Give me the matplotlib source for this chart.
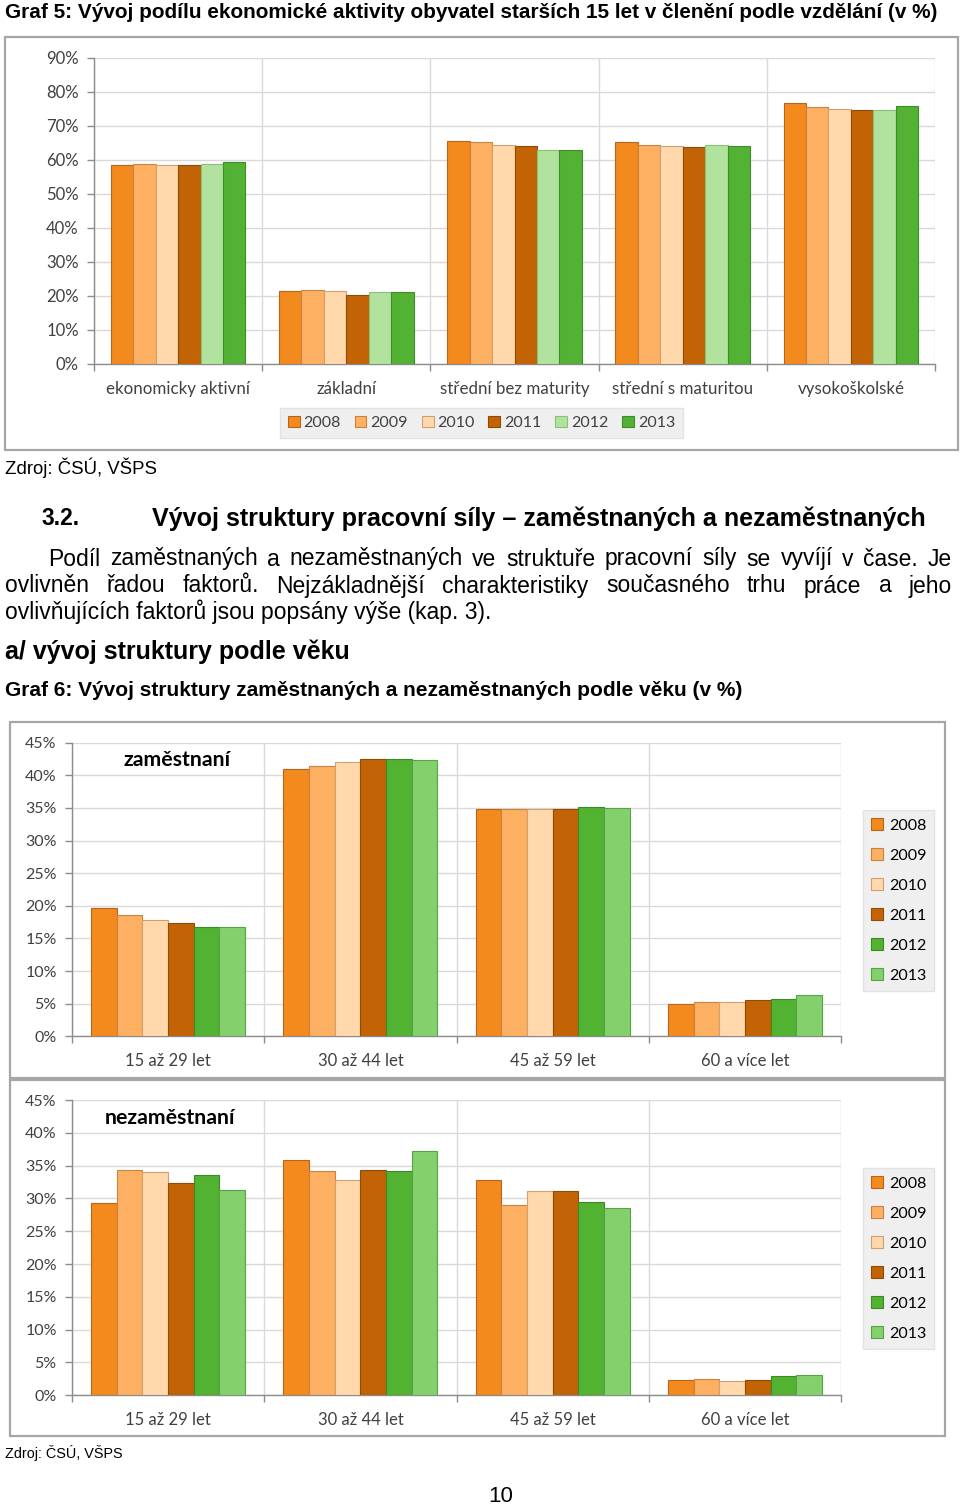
import matplotlib
matplotlib.use('Agg')
import matplotlib.pyplot as plt
from matplotlib.patches import Rectangle, Patch
import numpy as np

W, H = 960, 1510

years = ['2008', '2009', '2010', '2011', '2012', '2013']

# Graf 5 data
edu_cats = ['ekonomicky aktivní', 'základní', 'střední bez maturity',
            'střední s maturitou', 'vysokoškolské']
edu_2008 = [58.6, 21.6, 65.7, 65.2, 76.7]
edu_2009 = [58.8, 21.9, 65.2, 64.3, 75.5]
edu_2010 = [58.5, 21.4, 64.3, 64.0, 75.0]
edu_2011 = [58.5, 20.3, 64.0, 63.7, 74.7]
edu_2012 = [58.8, 21.1, 62.8, 64.3, 74.7]
edu_2013 = [59.3, 21.1, 63.0, 64.0, 75.8]

# Graf 6 data
age_cats = ['15 až 29 let', '30 až 44 let', '45 až 59 let', '60 a více let']
emp_2008 = [19.7, 40.9, 34.8, 5.0]
emp_2009 = [18.6, 41.5, 34.8, 5.2]
emp_2010 = [17.8, 42.1, 34.8, 5.2]
emp_2011 = [17.4, 42.5, 34.8, 5.5]
emp_2012 = [16.8, 42.5, 35.2, 5.7]
emp_2013 = [16.8, 42.3, 35.0, 6.3]
unemp_2008 = [29.3, 35.9, 32.8, 2.3]
unemp_2009 = [34.4, 34.2, 29.0, 2.5]
unemp_2010 = [34.0, 32.8, 31.1, 2.2]
unemp_2011 = [32.4, 34.4, 31.1, 2.3]
unemp_2012 = [33.6, 34.2, 29.5, 3.0]
unemp_2013 = [31.3, 37.2, 28.6, 3.1]

col1 = ['#F28A1E', '#FDB062', '#FFD8AC', '#C26406', '#B2E39E', '#53B234']
edge1 = ['#B8651A', '#C9823F', '#D0A070', '#8F4A05', '#8CBF78', '#3E8C27']
col2 = ['#F28A1E', '#FDB062', '#FFD8AC', '#C26406', '#52B232', '#84D06C']
edge2 = ['#B8651A', '#C9823F', '#D0A070', '#8F4A05', '#3A8A25', '#58A345']

CH_FONT = 'Lato'
PG_FONT = 'Liberation Sans'
GRID = '#D9D9D9'
AXC = '#8C8C8C'
TXT = '#404040'

fig = plt.figure(figsize=(W / 100, H / 100), dpi=100)
fig.patch.set_facecolor('white')
renderer = fig.canvas.get_renderer()


def fy(y):
    return 1 - y / H


def frame(x0, y0, x1, y1):
    fig.patches.append(Rectangle((x0 / W, fy(y1)), (x1 - x0) / W, (y1 - y0) / H,
                                 transform=fig.transFigure, fill=False,
                                 edgecolor='#A6A6A6', linewidth=1.6, zorder=0))


def fit_text(x0, x1, yc, s, weight='normal', size=12, family=PG_FONT):
    t = fig.text(x0 / W, fy(yc), s, ha='left', va='center', fontsize=size,
                 fontweight=weight, family=family, color='black')
    for _ in range(2):
        bb = t.get_window_extent(renderer)
        t.set_fontsize(t.get_fontsize() * (x1 - x0) / bb.width)
    return t


def justify(x0, x1, yc, s, size, weight='normal', family=PG_FONT):
    words = s.split(' ')
    ts = []
    widths = []
    for w in words:
        t = fig.text(0, fy(yc), w, ha='left', va='center', fontsize=size,
                     fontweight=weight, family=family, color='black')
        ts.append(t)
        widths.append(t.get_window_extent(renderer).width)
    gap = (x1 - x0 - sum(widths)) / (len(words) - 1)
    x = x0
    for t, w in zip(ts, widths):
        t.set_x(x / W)
        x += w + gap


def bar_axes(l, t, r, b, cats, series, colors, edges, ymax, ystep, fs, xfs, xpad):
    ax = fig.add_axes([l / W, fy(b), (r - l) / W, (b - t) / H])
    n = len(series)
    bw = 0.8 / n
    xc = np.arange(len(cats)) + 0.5
    for i, (vals, c, e) in enumerate(zip(series, colors, edges)):
        ax.bar(xc - 0.4 + bw * (i + 0.5), vals, width=bw, color=c,
               edgecolor=e, linewidth=0.8, zorder=3)
    ax.set_xlim(0, len(cats))
    ax.set_ylim(0, ymax)
    ax.set_yticks(np.arange(0, ymax + 0.01, ystep))
    ax.yaxis.set_major_formatter(lambda v, p: f'{v:.0f}%')
    ax.set_xticks(np.arange(len(cats) + 1))
    ax.set_xticklabels([])
    ax.set_xticks(xc, minor=True)
    ax.set_xticklabels(cats, minor=True)
    ax.tick_params(axis='x', which='minor', length=0, pad=xpad, labelsize=xfs,
                   labelcolor=TXT)
    ax.tick_params(axis='x', which='major', length=5, color=AXC, width=1)
    ax.tick_params(axis='y', length=5, color=AXC, width=1, pad=6,
                   labelsize=fs, labelcolor=TXT)
    for lab in ax.get_xticklabels(minor=True) + ax.get_yticklabels():
        lab.set_family(CH_FONT)
    ax.grid(True, which='major', color=GRID, linewidth=1, zorder=0)
    ax.set_axisbelow(True)
    for sp in ['top', 'right']:
        ax.spines[sp].set_visible(False)
    for sp in ['left', 'bottom']:
        ax.spines[sp].set_color(AXC)
        ax.spines[sp].set_linewidth(1)
    ax.set_facecolor('white')
    return ax


def handles(colors, edges):
    return [Patch(facecolor=c, edgecolor=e, linewidth=0.8, label=y)
            for c, e, y in zip(colors, edges, years)]


# ---------- Graf 5 ----------
fit_text(5, 942, 12, 'Graf 5: Vývoj podílu ekonomické aktivity obyvatel starších 15 let v členění podle vzdělání (v %)', weight='bold')
frame(5, 37, 958, 450)
ax1 = bar_axes(94, 58, 935, 364, edu_cats,
               [edu_2008, edu_2009, edu_2010, edu_2011, edu_2012, edu_2013],
               col1, edge1, 90, 10, 12, 12.2, 12)
leg1 = fig.legend(handles=handles(col1, edge1), loc='center',
                  bbox_to_anchor=(481.5 / W, fy(423)), ncol=6, frameon=True,
                  fancybox=False, handlelength=0.75, handleheight=0.75,
                  handletextpad=0.25, columnspacing=0.85, borderpad=0.5,
                  prop={'family': CH_FONT, 'size': 11.5})
leg1.get_frame().set_facecolor('#EBEBEB')
leg1.get_frame().set_edgecolor('#DEDEDE')
for tx in leg1.get_texts():
    tx.set_color(TXT)

fit_text(5, 157, 468, 'Zdroj: ČSÚ, VŠPS')

# ---------- text ----------
fit_text(42, 80, 519, '3.2.', weight='bold')
fit_text(152, 925, 519, 'Vývoj struktury pracovní síly – zaměstnaných a nezaměstnaných', weight='bold')
t3 = fit_text(5, 492, 612, 'ovlivňujících faktorů jsou popsány výše (kap. 3).')
psize = t3.get_fontsize()
justify(48, 952, 559, 'Podíl zaměstnaných a nezaměstnaných ve struktuře pracovní síly se vyvíjí v čase. Je', psize)
justify(5, 952, 586, 'ovlivněn řadou faktorů. Nejzákladnější charakteristiky současného trhu práce a jeho', psize)
fit_text(5, 349, 652, 'a/ vývoj struktury podle věku', weight='bold')
fit_text(5, 741, 691, 'Graf 6: Vývoj struktury zaměstnaných a nezaměstnaných podle věku (v %)', weight='bold')

# ---------- Graf 6 ----------
frame(10, 722, 945, 1078)
frame(10, 1080, 945, 1436)
ax2 = bar_axes(72, 742.7, 841, 1036.3, age_cats,
               [emp_2008, emp_2009, emp_2010, emp_2011, emp_2012, emp_2013],
               col2, edge2, 45, 5, 11.5, 12, 12)
ax3 = bar_axes(72, 1100, 841, 1395.3, age_cats,
               [unemp_2008, unemp_2009, unemp_2010, unemp_2011, unemp_2012, unemp_2013],
               col2, edge2, 45, 5, 11.5, 12, 12)
fig.text(177 / W, fy(760), 'zaměstnaní', ha='center', va='center',
         fontsize=15.3, fontweight='bold', family=CH_FONT)
fig.text(170.5 / W, fy(1118), 'nezaměstnaní', ha='center', va='center',
         fontsize=15.3, fontweight='bold', family=CH_FONT)

for yc in (900.5, 1258.5):
    lg = fig.legend(handles=handles(col2, edge2), loc='center',
                    bbox_to_anchor=(898.5 / W, fy(yc)), ncol=1, frameon=True,
                    fancybox=False, handlelength=0.75, handleheight=0.75,
                    handletextpad=0.4, labelspacing=0.98, borderpad=0.5,
                    prop={'family': CH_FONT, 'size': 11.5})
    lg.get_frame().set_facecolor('#EBEBEB')
    lg.get_frame().set_edgecolor('#DEDEDE')
    for tx in lg.get_texts():
        tx.set_color('black')

fit_text(5, 123, 1453, 'Zdroj: ČSÚ, VŠPS')
fit_text(488, 513, 1497, '10')

fig.savefig('out.png', dpi=100, facecolor='white')
